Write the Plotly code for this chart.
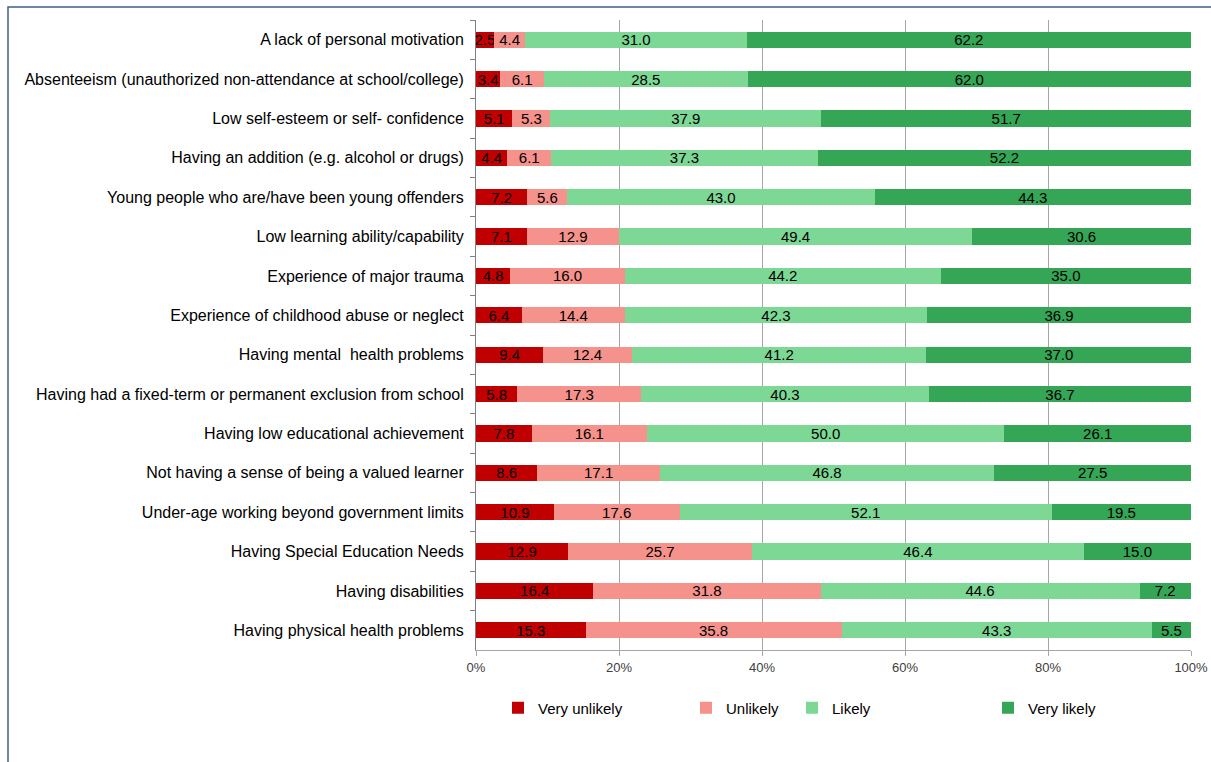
import plotly.graph_objects as go

categories = [
    "A lack of personal motivation",
    "Absenteeism (unauthorized non-attendance at school/college)",
    "Low self-esteem or self- confidence",
    "Having an addition (e.g. alcohol or drugs)",
    "Young people who are/have been young offenders",
    "Low learning ability/capability",
    "Experience of major trauma",
    "Experience of childhood abuse or neglect",
    "Having mental  health problems",
    "Having had a fixed-term or permanent exclusion from school",
    "Having low educational achievement",
    "Not having a sense of being a valued learner",
    "Under-age working beyond government limits",
    "Having Special Education Needs",
    "Having disabilities",
    "Having physical health problems",
]
very_unlikely = [2.5, 3.4, 5.1, 4.4, 7.2, 7.1, 4.8, 6.4, 9.4, 5.8, 7.8, 8.6, 10.9, 12.9, 16.4, 15.3]
unlikely = [4.4, 6.1, 5.3, 6.1, 5.6, 12.9, 16.0, 14.4, 12.4, 17.3, 16.1, 17.1, 17.6, 25.7, 31.8, 35.8]
likely = [31.0, 28.5, 37.9, 37.3, 43.0, 49.4, 44.2, 42.3, 41.2, 40.3, 50.0, 46.8, 52.1, 46.4, 44.6, 43.3]
very_likely = [62.2, 62.0, 51.7, 52.2, 44.3, 30.6, 35.0, 36.9, 37.0, 36.7, 26.1, 27.5, 19.5, 15.0, 7.2, 5.5]
series_names = ["Very unlikely", "Unlikely", "Likely", "Very likely"]
x_ticks = [0, 20, 40, 60, 80, 100]
x_tick_labels = ["0%", "20%", "40%", "60%", "80%", "100%"]

FONT = "Liberation Sans, Arial, sans-serif"
colors = ["#C00000", "#F4928B", "#7DD795", "#34A656"]
series = [very_unlikely, unlikely, likely, very_likely]

# layout geometry (pixels)
W, H = 1211, 762
L, R, T, B = 476, 20, 20, 112
pw = W - L - R
ph = H - T - B

legend_text_px = [538, 726, 832, 1028]

fig = go.Figure()
for i, (name, vals, col) in enumerate(zip(series_names, series, colors)):
    lg = "legend" if i == 0 else f"legend{i+1}"
    fig.add_trace(go.Bar(
        y=categories, x=vals, name=name, orientation="h",
        marker=dict(color=col, line=dict(width=0)),
        text=[f"{v:.1f}" for v in vals],
        textposition="inside", insidetextanchor="middle",
        textfont=dict(family=FONT, size=15, color="black"),
        constraintext="none",
        legend=lg,
        hoverinfo="x+y+name",
    ))

legends = {}
for i, px in enumerate(legend_text_px):
    key = "legend" if i == 0 else f"legend{i+1}"
    legends[key] = dict(
        x=(px - 40 - L) / pw, xanchor="left",
        y=-(708 - (T + ph)) / ph, yanchor="middle",
        orientation="h", bgcolor="rgba(0,0,0,0)",
        font=dict(family=FONT, size=15, color="black"),
        itemwidth=30, tracegroupgap=0,
    )

fig.update_layout(
    width=W, height=H,
    margin=dict(l=L, r=R, t=T, b=B, autoexpand=False),
    barmode="stack", barnorm="percent", bargap=0.59,
    plot_bgcolor="white", paper_bgcolor="white",
    uniformtext=dict(minsize=15, mode="show"),
    font=dict(family=FONT, color="black"),
    showlegend=True,
    **legends,
)
fig.update_xaxes(
    range=[0, 100], tickvals=x_ticks, ticktext=x_tick_labels,
    showgrid=True, gridcolor="#A6A6A6", gridwidth=1,
    showline=True, linecolor="#A6A6A6", linewidth=1,
    ticks="outside", ticklen=5, tickcolor="#A6A6A6",
    tickfont=dict(family=FONT, size=13, color="#404040"),
    ticklabeloverflow="allow",
    zeroline=False, fixedrange=True,
)
fig.update_yaxes(
    autorange="reversed", type="category",
    showline=True, linecolor="#808080", linewidth=1,
    ticks="outside", ticklen=5, tickcolor="#808080", tickson="boundaries",
    tickfont=dict(family=FONT, size=16, color="black"),
    ticklabelstandoff=8, fixedrange=True,
)

# outer chart border
fig.add_shape(
    type="rect", xref="paper", yref="paper",
    x0=(8 - L) / pw, x1=1 + 40 / pw,
    y0=-0.3, y1=1 + (T - 7) / ph,
    line=dict(color="#3E5F86", width=1.5), fillcolor="rgba(0,0,0,0)",
    layer="below",
)

fig.write_html("out.html")
